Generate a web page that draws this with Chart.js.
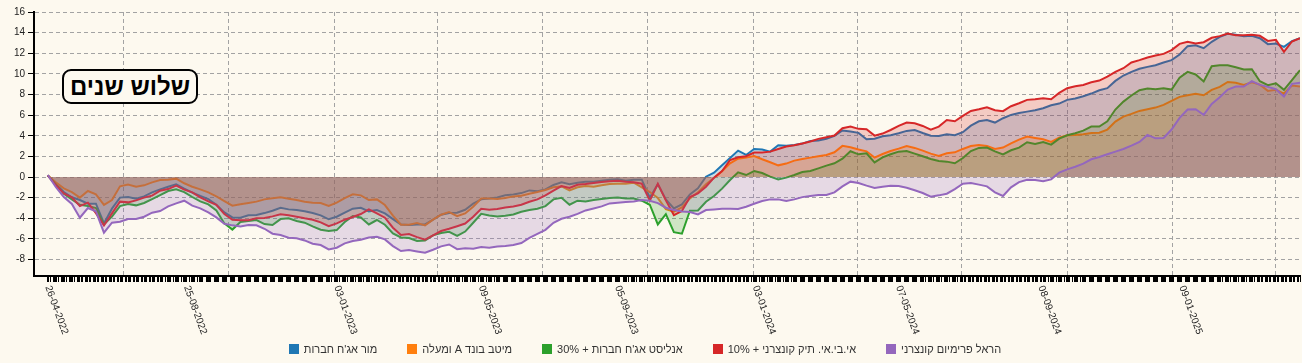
<!DOCTYPE html>
<html><head><meta charset="utf-8">
<script src="https://cdn.jsdelivr.net/npm/chart.js@4.4.1/dist/chart.umd.min.js"></script>
<style>
html,body{margin:0;padding:0;background:#fdf9ef;}
#wrap{position:relative;width:1302px;height:363px;overflow:hidden;}
#c{position:absolute;left:0;top:0;}
#title{position:absolute;left:62px;top:69px;width:132px;height:31px;border:2px solid #000;border-radius:9px;background:#fdf9ef;font:bold 24px Arial,"Liberation Sans",sans-serif;color:#000;display:flex;align-items:center;justify-content:center;direction:rtl;}
#legend{position:absolute;left:0;top:343px;width:1290px;display:flex;justify-content:center;gap:30px;font:11px Arial,"Liberation Sans",sans-serif;color:#333;}
.item{display:flex;align-items:center;}
.sw{width:10px;height:10px;margin-right:5px;}
</style></head><body>
<div id="wrap"><canvas id="c" width="1302" height="363" style="width:1302px;height:363px"></canvas><div id="title">שלוש שנים</div><div id="legend"></div></div>
<script>
const START_DATE = '26-04-2022';
const SAMPLE_STEP_DAYS = 7;
const X_MIN_DAY = -12;
const X_MAX_DAY = 1092;

const seriesNames = ["מור אג'ח חברות", "מיטב בונד A ומעלה", "אנליסט אג'ח חברות + 30%", "אי.בי.אי. תיק קונצרני + 10%", "הראל פרימיום קונצרני"];
const seriesColors = ['#1f77b4', '#ff7f0e', '#2ca02c', '#d62728', '#9467bd'];
const fillColors = ['rgba(31,119,180,0.22)', 'rgba(255,127,14,0.22)', 'rgba(44,160,44,0.22)', 'rgba(214,39,40,0.22)', 'rgba(148,103,189,0.22)'];

const xTickLabels = ['26-04-2022','25-08-2022','03-01-2023','09-05-2023','05-09-2023','03-01-2024','07-05-2024','08-09-2024','09-01-2025'];
const xGridDates = ['01-07-2022','01-10-2022','01-01-2023','01-04-2023','01-07-2023','01-10-2023','01-01-2024','01-04-2024','01-07-2024','01-10-2024','01-01-2025','01-04-2025'];
const yTickValues = [-8,-6,-4,-2,0,2,4,6,8,10,12,14,16];

const mor = [0.15,-0.68,-1.46,-1.97,-2.23,-2.59,-2.59,-4.5,-3.07,-2.0,-1.94,-2.1,-1.88,-1.49,-1.2,-0.94,-0.71,-1.13,-1.52,-1.84,-2.14,-2.69,-3.43,-3.92,-3.95,-3.72,-3.69,-3.5,-3.27,-2.98,-3.14,-3.2,-3.33,-3.5,-3.72,-4.1,-3.85,-3.46,-3.07,-2.98,-3.33,-3.2,-3.53,-4.08,-4.6,-4.66,-4.6,-4.6,-4.14,-3.66,-3.5,-3.47,-3.18,-2.59,-2.17,-2.08,-1.98,-1.78,-1.69,-1.56,-1.3,-1.39,-1.2,-0.78,-0.52,-0.71,-0.55,-0.45,-0.45,-0.36,-0.26,-0.23,-0.36,-0.26,-0.26,-2.0,-0.71,-2.17,-3.05,-2.66,-1.69,-1.1,0.03,0.42,1.13,1.85,2.56,2.14,2.72,2.66,2.46,3.08,3.02,3.11,3.24,3.5,3.53,3.7,3.99,4.51,4.41,4.28,3.66,3.72,3.95,4.05,4.24,4.47,4.56,4.27,4.01,3.98,4.14,4.05,4.34,4.98,5.4,5.53,5.28,5.7,6.02,6.21,6.34,6.47,6.67,6.96,7.12,7.48,7.61,7.83,8.09,8.41,8.61,9.32,9.84,10.19,10.49,10.68,10.84,11.1,11.33,11.88,12.69,12.78,12.49,13.11,13.59,13.88,13.79,13.66,13.69,13.46,12.88,12.94,12.62,13.17,13.46];
const meitav = [0.15,-0.52,-1.1,-1.46,-2.0,-1.36,-1.68,-2.7,-2.23,-0.9,-0.74,-0.94,-0.81,-0.52,-0.29,-0.26,-0.16,-0.61,-0.94,-1.2,-1.49,-1.88,-2.33,-2.78,-2.65,-2.52,-2.39,-2.17,-2.07,-1.97,-2.1,-2.23,-2.39,-2.49,-2.52,-2.8,-2.49,-2.04,-1.68,-1.78,-2.23,-2.17,-2.72,-3.75,-4.63,-4.63,-4.47,-4.69,-4.14,-3.66,-3.4,-3.79,-3.53,-2.89,-2.08,-2.08,-2.14,-2.04,-1.88,-1.82,-1.62,-1.46,-1.26,-1.0,-0.91,-1.3,-1.0,-0.88,-0.94,-0.81,-0.68,-0.65,-0.65,-0.55,-1.0,-1.46,-2.04,-3.11,-3.37,-2.95,-2.08,-1.49,-0.71,-0.1,0.55,1.33,1.78,1.88,2.04,1.72,1.43,1.13,1.3,1.59,1.75,1.88,2.01,2.14,2.4,3.02,2.89,2.66,2.49,1.88,2.23,2.52,2.75,3.01,2.82,2.56,2.27,2.04,2.3,2.39,2.72,3.01,3.11,3.01,2.72,2.85,3.27,3.62,3.92,3.79,3.66,3.4,3.82,4.05,4.08,4.14,4.27,4.3,4.6,5.37,5.86,6.12,6.41,6.57,6.73,6.99,7.38,7.77,7.93,8.06,7.93,8.45,8.74,9.22,9.13,8.93,9.19,8.96,8.35,8.45,8.09,8.87,8.77];
const analyst = [0.15,-0.71,-1.62,-2.17,-2.69,-2.82,-3.01,-4.6,-3.85,-2.82,-2.62,-2.75,-2.52,-2.14,-1.75,-1.36,-1.2,-1.46,-1.94,-2.36,-2.65,-3.24,-4.5,-5.1,-4.37,-4.27,-4.17,-4.56,-4.66,-4.08,-4.01,-4.27,-4.43,-4.79,-5.11,-5.24,-5.15,-4.37,-3.79,-3.92,-4.6,-4.17,-4.63,-5.47,-5.86,-5.92,-6.21,-6.15,-5.66,-5.44,-5.31,-5.71,-5.29,-4.44,-3.57,-3.73,-3.83,-3.76,-3.63,-3.37,-3.21,-3.08,-2.82,-2.17,-2.01,-2.69,-2.3,-2.37,-2.24,-2.14,-2.04,-1.98,-2.08,-2.08,-2.3,-2.69,-4.6,-3.6,-5.35,-5.5,-3.27,-3.24,-2.4,-1.85,-1.13,-0.29,0.45,0.19,0.58,0.39,0.03,-0.23,-0.06,0.19,0.49,0.58,0.84,1.1,1.33,1.78,2.5,2.2,2.3,1.42,1.91,2.2,2.46,2.52,2.27,2.01,1.75,1.55,1.49,1.33,1.84,2.52,2.82,2.85,2.49,2.2,2.59,2.85,3.37,3.2,3.4,3.14,3.72,4.05,4.24,4.5,4.89,4.89,5.4,6.54,7.31,7.9,8.41,8.58,8.51,8.61,8.48,9.64,10.19,9.94,9.26,10.74,10.84,10.84,10.65,10.42,10.45,9.29,8.9,9.09,8.45,9.39,10.36];
const ibi = [0.15,-0.78,-1.59,-1.97,-2.82,-2.49,-3.5,-4.7,-3.53,-2.39,-2.46,-2.27,-2.0,-1.81,-1.33,-1.17,-0.84,-1.23,-1.49,-1.97,-2.36,-2.69,-3.59,-4.14,-4.2,-4.2,-4.01,-3.98,-3.82,-3.62,-3.72,-3.85,-4.01,-4.14,-4.4,-4.76,-4.5,-4.14,-3.88,-3.59,-3.14,-3.53,-3.95,-4.92,-5.63,-5.53,-5.83,-6.08,-5.66,-5.24,-5.02,-4.77,-4.51,-3.86,-3.08,-3.18,-3.11,-2.95,-2.85,-2.69,-2.4,-2.17,-1.78,-1.33,-0.88,-1.07,-0.75,-0.68,-0.58,-0.49,-0.42,-0.36,-0.45,-0.52,-0.65,-2.3,-0.65,-2.27,-3.7,-3.3,-1.95,-1.59,-0.94,-0.06,0.58,1.65,1.91,2.01,2.37,2.37,2.46,2.72,2.95,3.08,3.24,3.44,3.7,3.86,4.02,4.73,4.9,4.67,4.63,4.01,4.21,4.56,4.95,5.28,5.21,4.95,4.6,4.89,5.53,5.4,5.92,6.41,6.57,6.76,6.47,6.38,6.86,7.15,7.48,7.54,7.64,7.54,8.16,8.61,8.8,8.93,9.19,9.35,9.74,10.19,10.55,11.1,11.33,11.59,11.78,11.94,12.3,12.91,13.11,12.94,13.07,13.5,13.66,13.92,13.75,13.75,13.79,13.69,13.2,13.3,12.14,13.14,13.46];
const harel = [0.2,-0.97,-1.94,-2.62,-3.95,-3.01,-3.33,-5.4,-4.43,-4.34,-4.08,-4.08,-3.85,-3.46,-3.3,-2.85,-2.56,-2.3,-2.78,-3.04,-3.43,-3.92,-4.53,-4.69,-4.79,-4.66,-4.69,-5.02,-5.5,-5.63,-5.89,-5.95,-6.15,-6.47,-6.6,-7.02,-6.86,-6.44,-6.21,-6.08,-5.86,-5.79,-6.05,-6.7,-7.18,-7.09,-7.22,-7.35,-7.05,-6.73,-6.54,-7.0,-6.9,-6.95,-6.8,-6.85,-6.75,-6.7,-6.6,-6.4,-5.9,-5.51,-5.12,-4.44,-4.05,-3.86,-3.57,-3.24,-3.05,-2.85,-2.56,-2.5,-2.43,-2.37,-2.24,-2.3,-2.53,-2.98,-3.21,-3.34,-3.4,-3.63,-3.21,-3.15,-3.08,-3.08,-3.11,-2.89,-2.59,-2.33,-2.17,-2.17,-2.33,-2.17,-1.95,-1.85,-1.75,-1.75,-1.49,-0.91,-0.45,-0.58,-0.84,-1.07,-0.94,-0.84,-0.87,-1.04,-1.29,-1.55,-1.91,-1.78,-1.62,-1.17,-0.65,-0.58,-0.74,-0.91,-1.49,-1.84,-1.0,-0.49,-0.26,-0.29,-0.42,-0.23,0.42,0.74,1.0,1.29,1.72,1.94,2.2,2.46,2.72,3.04,3.4,4.08,3.75,3.79,4.6,5.73,6.54,6.57,6.02,7.09,7.73,8.48,8.77,8.77,9.29,8.93,8.74,8.51,7.8,9.03,9.13];

const seriesValues = [mor, meitav, analyst, ibi, harel];

function dayOf(s) {
  const [d, m, y] = s.split('-').map(Number);
  const [d0, m0, y0] = START_DATE.split('-').map(Number);
  return Math.round((Date.UTC(y, m - 1, d) - Date.UTC(y0, m0 - 1, d0)) / 86400000);
}

// axis tick marks: one per trading day (Sun-Thu), plus quarter grid lines
function buildXTicks() {
  const [d0, m0, y0] = START_DATE.split('-').map(Number);
  const startDow = new Date(Date.UTC(y0, m0 - 1, d0)).getUTCDay();
  const ticks = [];
  for (let d = 0; d <= X_MAX_DAY; d++) {
    const dow = (startDow + d) % 7;
    if (dow !== 5 && dow !== 6) ticks.push({ value: d, q: false });
  }
  xGridDates.forEach(s => ticks.push({ value: dayOf(s), q: true }));
  return ticks;
}

const datasets = seriesNames.map((name, i) => ({
  label: name,
  data: seriesValues[i].map((v, k) => ({ x: k * SAMPLE_STEP_DAYS, y: v })),
  borderColor: seriesColors[i],
  backgroundColor: fillColors[i],
  borderWidth: 2,
  pointRadius: 0,
  fill: 'origin',
  tension: 0,
  order: seriesNames.length - i
}));

const FONT = 'Arial, "Liberation Sans", sans-serif';

const xLabelPlugin = {
  id: 'xlabels',
  afterDraw(chart) {
    const { ctx, scales: { x }, chartArea } = chart;
    ctx.save();
    ctx.font = '10px ' + FONT;
    ctx.fillStyle = '#222';
    ctx.textAlign = 'left';
    ctx.textBaseline = 'middle';
    xTickLabels.forEach(lbl => {
      const px = x.getPixelForValue(dayOf(lbl));
      ctx.save();
      ctx.translate(px, chartArea.bottom + 10);
      ctx.rotate(70 * Math.PI / 180);
      ctx.fillText(lbl, 0, 0);
      ctx.restore();
    });
    ctx.restore();
  }
};

new Chart(document.getElementById('c'), {
  type: 'line',
  data: { datasets },
  plugins: [xLabelPlugin],
  options: {
    responsive: false,
    animation: false,
    devicePixelRatio: 1,
    layout: { padding: { left: 0, right: 2, top: 12, bottom: 27 } },
    plugins: { legend: { display: false }, tooltip: { enabled: false } },
    scales: {
      x: {
        type: 'linear',
        min: X_MIN_DAY,
        max: X_MAX_DAY,
        afterBuildTicks: s => { s.ticks = buildXTicks(); },
        afterFit: s => { s.height = 60; },
        ticks: { display: false },
        grid: {
          color: c => (c.tick && c.tick.q) ? '#a3a3a3' : 'rgba(0,0,0,0)',
          lineWidth: 1,
          tickWidth: 1,
          tickLength: 6,
          tickColor: c => (c.tick && c.tick.q) ? 'rgba(0,0,0,0)' : '#000'
        },
        border: { display: true, color: '#000', width: 2, dash: [4, 3] }
      },
      y: {
        type: 'linear',
        min: -9.6,
        max: 16,
        afterBuildTicks: s => { s.ticks = yTickValues.map(v => ({ value: v })); },
        afterFit: s => { s.width = 34; },
        ticks: { font: { family: FONT, size: 10 }, color: '#222', padding: 3 },
        grid: { color: '#a3a3a3', lineWidth: 1, tickLength: 6, tickColor: '#000', tickWidth: 1 },
        border: { display: true, color: '#000', width: 2, dash: [4, 3] }
      }
    }
  }
});

// legend (HTML, built from the series arrays)
const legend = document.getElementById('legend');
seriesNames.forEach((name, i) => {
  const item = document.createElement('div');
  item.className = 'item';
  const sw = document.createElement('span');
  sw.className = 'sw';
  sw.style.background = seriesColors[i];
  const tx = document.createElement('span');
  tx.dir = 'rtl';
  tx.textContent = name;
  item.appendChild(sw);
  item.appendChild(tx);
  legend.appendChild(item);
});
</script>
</body></html>
